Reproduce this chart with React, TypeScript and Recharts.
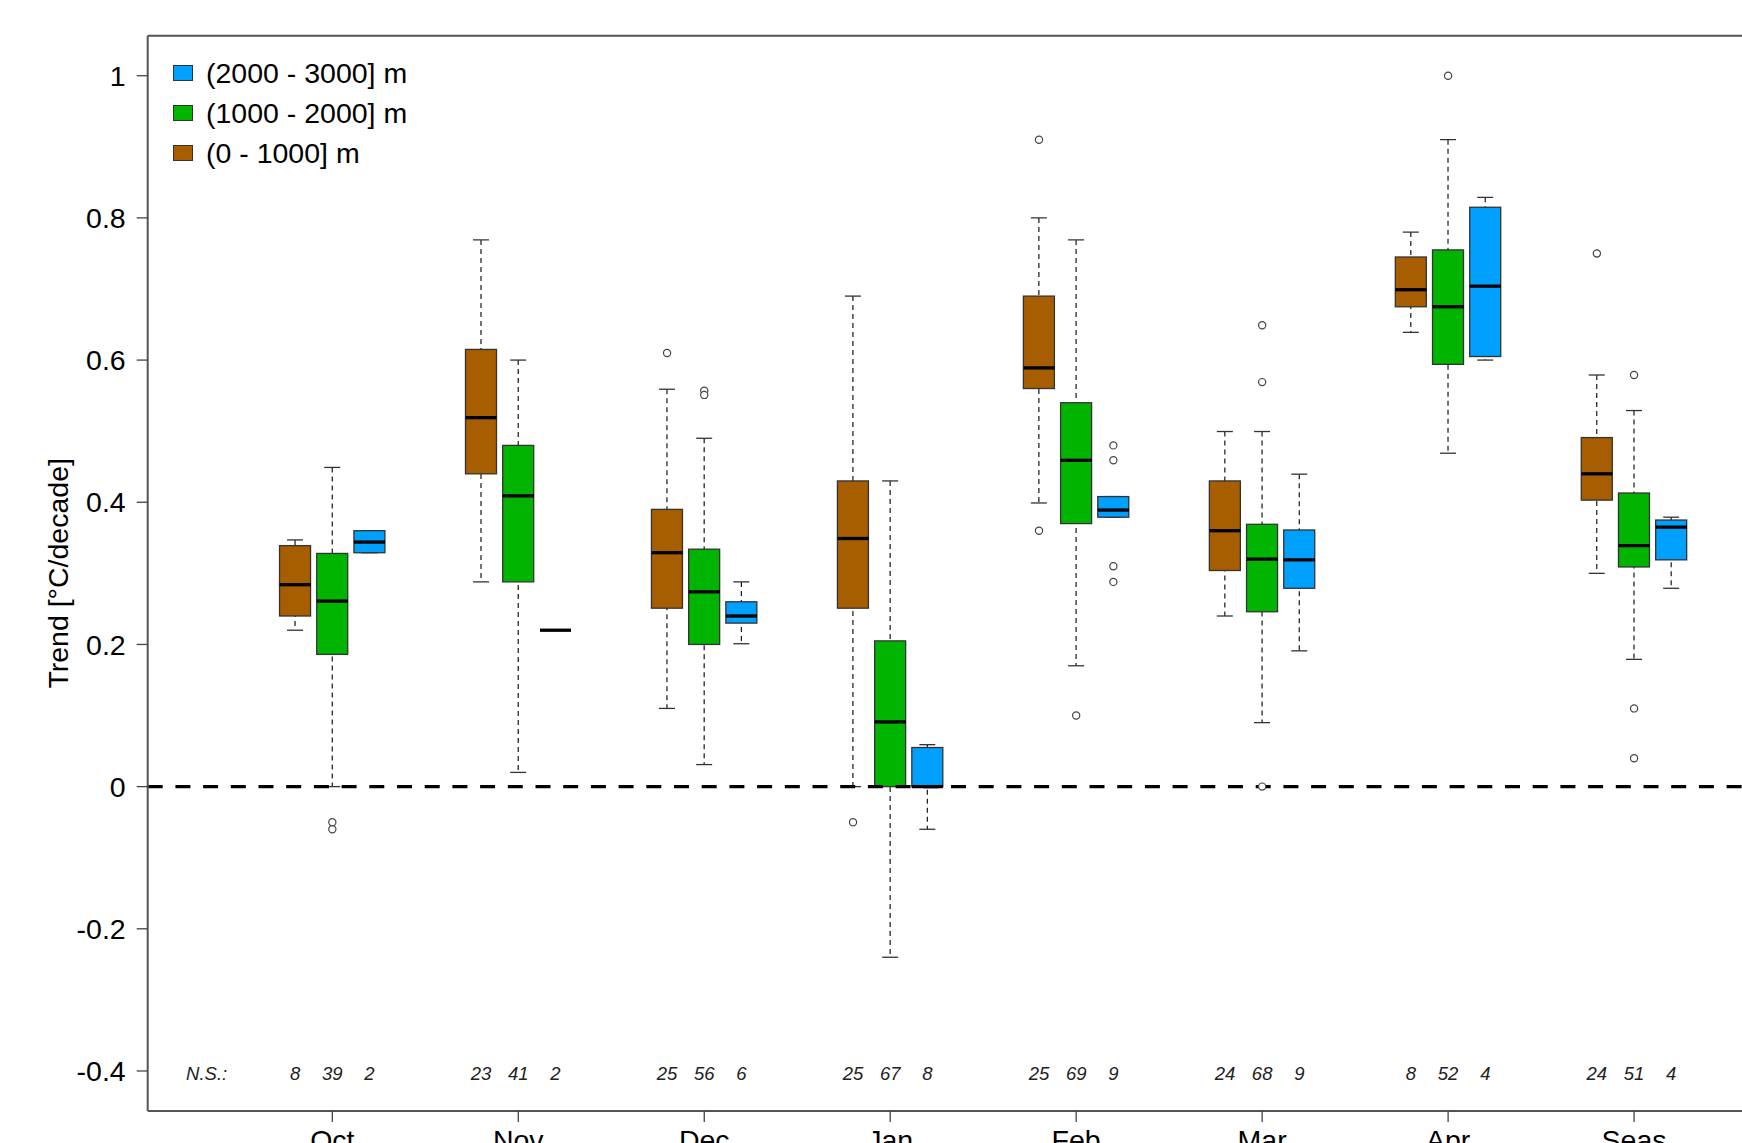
import React from 'react';
import { ComposedChart, Bar, Scatter, XAxis, YAxis, ReferenceLine, Legend } from 'recharts';

const months = ['Oct', 'Nov', 'Dec', 'Jan', 'Feb', 'Mar', 'Apr', 'Seas'];
const bands = ['(0 - 1000] m', '(1000 - 2000] m', '(2000 - 3000] m'];
const bandColors = ['#A65E00', '#00B400', '#00A0FF'];

// [lower whisker, Q1, median, Q3, upper whisker] per month
const stats0to1000 = [
  [0.22, 0.24, 0.284, 0.339, 0.347],
  [0.288, 0.44, 0.519, 0.615, 0.769],
  [0.11, 0.251, 0.329, 0.39, 0.559],
  [0, 0.251, 0.349, 0.43, 0.69],
  [0.399, 0.56, 0.589, 0.69, 0.8],
  [0.24, 0.304, 0.36, 0.43, 0.4995],
  [0.639, 0.675, 0.699, 0.745, 0.78],
  [0.3, 0.403, 0.44, 0.491, 0.579],
];
const stats1000to2000 = [
  [0, 0.186, 0.261, 0.328, 0.449],
  [0.02, 0.288, 0.409, 0.48, 0.6],
  [0.031, 0.2, 0.274, 0.334, 0.49],
  [-0.24, 0, 0.091, 0.205, 0.43],
  [0.17, 0.37, 0.459, 0.54, 0.769],
  [0.09, 0.246, 0.32, 0.369, 0.4995],
  [0.469, 0.594, 0.675, 0.755, 0.91],
  [0.179, 0.309, 0.339, 0.413, 0.529],
];
const stats2000to3000 = [
  [0.329, 0.329, 0.344, 0.36, 0.36],
  [0.22, 0.22, 0.22, 0.22, 0.22],
  [0.201, 0.23, 0.24, 0.26, 0.288],
  [-0.06, 0, 0, 0.055, 0.059],
  [0.379, 0.379, 0.389, 0.408, 0.408],
  [0.191, 0.279, 0.319, 0.361, 0.4395],
  [0.6, 0.605, 0.704, 0.815, 0.829],
  [0.279, 0.319, 0.365, 0.375, 0.379],
];

const outliers0to1000 = [[], [], [0.61], [-0.05], [0.91, 0.36], [], [], [0.75]];
const outliers1000to2000 = [[-0.05, -0.06], [], [0.557, 0.551], [], [0.1], [0.649, 0.569, 0], [1.0], [0.579, 0.11, 0.04]];
const outliers2000to3000 = [[], [], [], [], [0.48, 0.459, 0.31, 0.288], [], [], []];

// number of non-significant stations
const ns0to1000 = [8, 23, 25, 25, 25, 24, 8, 24];
const ns1000to2000 = [39, 41, 56, 67, 69, 68, 52, 51];
const ns2000to3000 = [2, 2, 6, 8, 9, 9, 4, 4];

const yTicks = [-0.4, -0.2, 0, 0.2, 0.4, 0.6, 0.8, 1];

const allStats = [stats0to1000, stats1000to2000, stats2000to3000];
const allOutliers = [outliers0to1000, outliers1000to2000, outliers2000to3000];
const allNs = [ns0to1000, ns1000to2000, ns2000to3000];

// box position: three boxes per month, two empty slots between months
const posOf = (m: number, b: number) => 1 + 5 * m + b;
const xDomain = [-2.964, 41.964];
const yDomain = [-0.4563, 1.0563];
const monthTicks = months.map((_, m) => posOf(m, 1));
const nsLabelPos = -1.38;

const rows = months.flatMap((_, m) =>
  allStats.map((s, b) => {
    const [lo, q1, med, q3, hi] = s[m];
    return { pos: posOf(m, b), band: b, whisker: [lo, hi], box: [q1, q3], med };
  })
);

const outlierPoints = months.flatMap((_, m) =>
  allOutliers.flatMap((o, b) => o[m].map((y) => ({ pos: posOf(m, b), y })))
);

const nsPoints = [
  { pos: nsLabelPos, y: -0.4, label: 'N.S.:' },
  ...months.flatMap((_, m) => allNs.map((n, b) => ({ pos: posOf(m, b), y: -0.4, label: String(n[m]) }))),
];

const FONT = 28.5;
const BOX_W = 31;

const WhiskerShape = (props: any) => {
  const { x, y, width, height } = props;
  const cx = x + width / 2;
  const cap = 8;
  return (
    <g>
      <line x1={cx} x2={cx} y1={y} y2={y + height} stroke="#000" strokeWidth={1.1} strokeDasharray="5 4" />
      <line x1={cx - cap} x2={cx + cap} y1={y} y2={y} stroke="#333" strokeWidth={1.3} />
      <line x1={cx - cap} x2={cx + cap} y1={y + height} y2={y + height} stroke="#333" strokeWidth={1.3} />
    </g>
  );
};

const BoxShape = (props: any) => {
  const { x, y, width, height, payload } = props;
  return (
    <rect x={x} y={y} width={width} height={height} fill={bandColors[payload.band]} stroke="#333" strokeWidth={1.3} />
  );
};

const MedianShape = (props: any) => {
  const { cx, cy } = props;
  return <line x1={cx - BOX_W / 2} x2={cx + BOX_W / 2} y1={cy} y2={cy} stroke="#000" strokeWidth={3.3} />;
};

const OutlierShape = (props: any) => {
  const { cx, cy } = props;
  return <circle cx={cx} cy={cy} r={3.6} fill="#fff" stroke="#444" strokeWidth={1.2} />;
};

const NsShape = (props: any) => {
  const { cx, cy, payload } = props;
  return (
    <text x={cx} y={cy + 2.5} textAnchor="middle" dominantBaseline="central" fontStyle="italic" fontSize={18.5} fill="#222">
      {payload.label}
    </text>
  );
};

const LegendBox = () => (
  <div style={{ fontSize: FONT, lineHeight: '40px', color: '#000', whiteSpace: 'nowrap' }}>
    {[2, 1, 0].map((b) => (
      <div key={b} style={{ display: 'flex', alignItems: 'center', height: 40 }}>
        <span
          style={{
            width: 20,
            height: 16,
            boxSizing: 'border-box',
            border: '1px solid #333',
            background: bandColors[b],
            marginRight: 13,
            display: 'inline-block',
          }}
        />
        <span>{bands[b]}</span>
      </div>
    ))}
  </div>
);

const axisLine = { stroke: '#555', strokeWidth: 2 };

export default function App() {
  return (
    <div
      style={{
        position: 'absolute',
        left: 0,
        top: 0,
        width: 1742,
        height: 1143,
        overflow: 'hidden',
        background: '#fff',
        fontFamily: '"Liberation Sans", Arial, sans-serif',
      }}
    >
      <ComposedChart width={1900} height={1200} data={rows} margin={{ top: 34.7, right: 81.3, bottom: 29, left: 0 }}>
        <XAxis
          xAxisId="main"
          dataKey="pos"
          type="number"
          domain={xDomain}
          allowDataOverflow
          ticks={monthTicks}
          interval={0}
          tickFormatter={(v: number) => months[Math.round((v - 2) / 5)]}
          height={60}
          tickSize={11}
          tickMargin={8}
          tick={{ fill: '#000', fontSize: FONT }}
          tickLine={{ stroke: '#444', strokeWidth: 1.3 }}
          axisLine={axisLine}
        />
        <XAxis
          xAxisId="box"
          orientation="top"
          dataKey="pos"
          type="number"
          domain={xDomain}
          allowDataOverflow
          ticks={monthTicks}
          height={0}
          hide
        />
        <XAxis
          xAxisId="top"
          orientation="top"
          dataKey="pos"
          type="number"
          domain={xDomain}
          allowDataOverflow
          height={1}
          tick={false}
          tickLine={false}
          axisLine={axisLine}
        />
        <YAxis
          type="number"
          domain={yDomain}
          allowDataOverflow
          ticks={yTicks}
          interval={0}
          width={147.7}
          tickSize={11}
          tickMargin={11}
          tick={{ fill: '#000', fontSize: FONT }}
          tickLine={{ stroke: '#444', strokeWidth: 1.3 }}
          axisLine={axisLine}
          tickFormatter={(v: number) => String(v)}
          label={{
            content: (p: any) => {
              const vb = p.viewBox || { x: 0, y: 35.7, height: 1075.3 };
              const tx = vb.x + 58;
              const ty = vb.y + vb.height / 2;
              return (
                <text
                  x={tx}
                  y={ty}
                  transform={`rotate(-90 ${tx} ${ty})`}
                  textAnchor="middle"
                  dominantBaseline="central"
                  fontSize={FONT}
                  fill="#000"
                >
                  Trend [°C/decade]
                </text>
              );
            },
          }}
        />
        <Legend
          layout="horizontal"
          verticalAlign="middle"
          align="center"
          content={<LegendBox />}
          wrapperStyle={{ left: 173, top: 52.7, width: 'auto', height: 'auto' }}
        />
        <ReferenceLine xAxisId="main" y={0} stroke="#000" strokeWidth={3.4} strokeDasharray="15 12.7" />
        <Bar
          xAxisId="main"
          dataKey={(d: any) => d.whisker}
          barSize={BOX_W}
          shape={<WhiskerShape />}
          isAnimationActive={false}
          legendType="none"
        />
        <Bar
          xAxisId="box"
          dataKey={(d: any) => d.box}
          barSize={BOX_W}
          shape={<BoxShape />}
          isAnimationActive={false}
          legendType="none"
        />
        <Scatter xAxisId="main" dataKey="med" shape={<MedianShape />} isAnimationActive={false} legendType="none" />
        <Scatter xAxisId="main" data={outlierPoints} dataKey="y" shape={<OutlierShape />} isAnimationActive={false} legendType="none" />
        <Scatter xAxisId="main" data={nsPoints} dataKey="y" shape={<NsShape />} isAnimationActive={false} legendType="none" />
      </ComposedChart>
    </div>
  );
}
